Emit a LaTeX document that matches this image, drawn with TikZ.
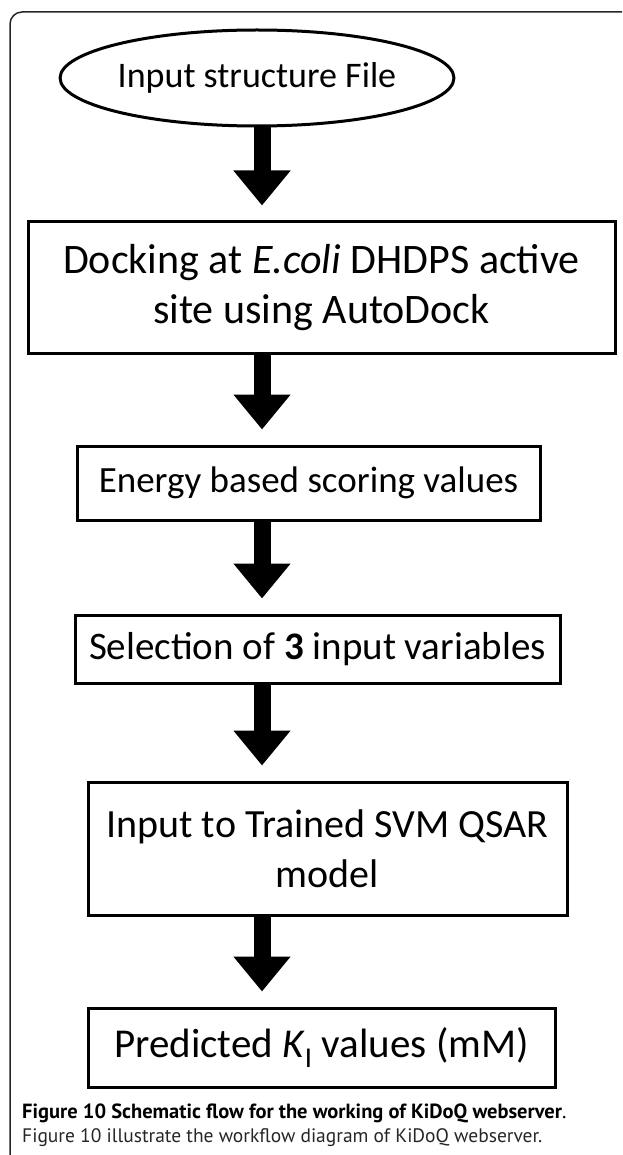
\documentclass[tikz,border=0pt]{standalone}
\usepackage{fontspec}
\setmainfont{Carlito}
\newfontfamily\captionfont{PT Sans}
\usetikzlibrary{arrows.meta, shapes.geometric}
\tikzset{
x=1pt, y=-1pt, % one unit is one pixel of the figure, y runs downwards
every node/.style={inner sep=0pt, align=center}, % text is centred in every node
stepbox/.style={draw, rectangle, line width=3pt}, % sets the look of each step of the flow
startnode/.style={draw, ellipse, line width=3pt}, % the oval at the top
bigarrow/.style={line width=17pt, -{Triangle[width=55pt, length=35pt]}, shorten >=15pt}, % the fat black arrows
}

\begin{document}
\begin{tikzpicture}
    \useasboundingbox (0,0) rectangle (622,1155);
    % frame round the figure
    \draw[line width=1.5pt, rounded corners=12pt, black!85] (10,1155) -- (10,12) -- (622,12);
    \coordinate (spine) at (262,0);
    \node[startnode, minimum width=390pt, minimum height=96pt, font=\fontsize{36}{42}\selectfont] (input) at (257,78) {Input structure File};
    \node[stepbox, minimum width=587pt, minimum height=131pt, font=\fontsize{42}{50}\selectfont] (dock) at (321.5,287.5) {Docking at \textit{E.coli} DHDPS active\\site using AutoDock};
    \node[stepbox, minimum width=463pt, minimum height=74pt, font=\fontsize{37}{44}\selectfont] (energy) at (308.5,483) {Energy based scoring values};
    \node[stepbox, minimum width=485pt, minimum height=68pt, font=\fontsize{39}{46}\selectfont] (select) at (317.5,649) {Selection of \textbf{3} input variables};
    \node[stepbox, minimum width=479pt, minimum height=133pt, font=\fontsize{40}{50}\selectfont] (svm) at (327.5,848.5) {Input to Trained SVM QSAR\\model};
    \node[stepbox, minimum width=467pt, minimum height=79pt, font=\fontsize{41}{46}\selectfont] (ki) at (321.5,1047.5) {Predicted \textit{K}\textsubscript{I} values (mM)};
    \draw[bigarrow] (spine |- input.south) -- (spine |- dock.north);
    \draw[bigarrow] (spine |- dock.south) -- (spine |- energy.north);
    \draw[bigarrow] (spine |- energy.south) -- (spine |- select.north);
    \draw[bigarrow] (spine |- select.south) -- (spine |- svm.north);
    \draw[bigarrow] (spine |- svm.south) -- (spine |- ki.north);
    % caption
    \node[anchor=base west, font=\captionfont\fontsize{20.5}{24}\selectfont] (title) at (22,1118) {\textbf{Figure 10 Schematic flow for the working of KiDoQ webserver}.};
    \node[anchor=base west, font=\captionfont\fontsize{19.5}{24}\selectfont, black!85] (legend) at (22,1142) {Figure 10 illustrate the workflow diagram of KiDoQ webserver.};
\end{tikzpicture}
\end{document}
